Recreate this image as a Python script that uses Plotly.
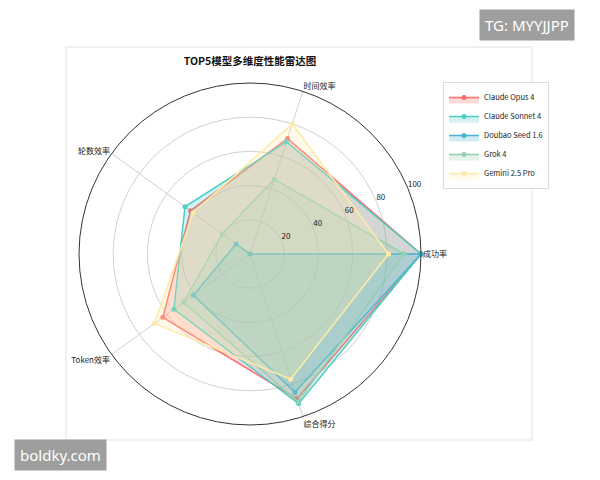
import plotly.graph_objects as go

categories = ["成功率", "时间效率", "轮数效率", "Token效率", "综合得分"]
models = ["Claude Opus 4", "Claude Sonnet 4", "Doubao Seed 1.6", "Grok 4", "Gemini 2.5 Pro"]
claude_opus = [100, 71, 43, 63, 89]
claude_sonnet = [100, 69, 47, 55, 92]
doubao_seed = [100, 0, 10, 41, 85]
grok4 = [90, 46, 20, 48, 91]
gemini_pro = [81, 80, 41, 69, 77]
series = [claude_opus, claude_sonnet, doubao_seed, grok4, gemini_pro]
colors = ["#FF6B6B", "#4ECDC4", "#45B7D1", "#96CEB4", "#FFEAA7"]
radial_ticks = [20, 40, 60, 80, 100]

def rgba(hexc, a):
    h = hexc.lstrip("#")
    return f"rgba({int(h[0:2],16)},{int(h[2:4],16)},{int(h[4:6],16)},{a})"

FONT = "Noto Sans CJK SC, Noto Sans, sans-serif"

# angular positions (degrees) of the categories, evenly spaced
angles = [i * 360 / len(categories) for i in range(len(categories))]
label_angle = 22.5

fig = go.Figure()
for name, vals, c in zip(models, series, colors):
    fig.add_trace(go.Scatterpolar(
        r=vals + vals[:1],
        theta=angles + angles[:1],
        name=name,
        mode="lines+markers",
        fill="toself",
        fillcolor=rgba(c, 0.25),
        line=dict(color=c, width=1.5),
        marker=dict(color=c, size=5),
    ))

# radial tick labels (matplotlib-style, placed beside the 22.5° direction)
fig.add_trace(go.Scatterpolar(
    r=radial_ticks, theta=[label_angle] * len(radial_ticks),
    mode="text", text=[str(v) for v in radial_ticks], textposition="top right",
    textfont=dict(size=8, color="#222", family=FONT),
    showlegend=False, hoverinfo="skip",
))

W, H = 600, 480
OFF = 8  # page body margin

def px(x):
    return (x - OFF) / W

def py(y):
    return (H - (y - OFF)) / H

cx, cy, R = 250, 254, 171

fig.update_layout(
    width=W, height=H,
    margin=dict(l=0, r=0, t=0, b=0),
    paper_bgcolor="white",
    plot_bgcolor="white",
    font=dict(family=FONT, size=8, color="#222"),
    polar=dict(
        domain=dict(x=[px(cx - R), px(cx + R)], y=[py(cy + R), py(cy - R)]),
        bgcolor="rgba(0,0,0,0)",
        gridshape="circular",
        radialaxis=dict(
            range=[0, 100], tickvals=radial_ticks, showticklabels=False,
            angle=label_angle, showline=False, ticks="",
            gridcolor="#d0d0d0", gridwidth=1,
        ),
        angularaxis=dict(
            type="linear", thetaunit="degrees",
            rotation=0, direction="counterclockwise",
            tickmode="array", tickvals=angles, ticktext=categories,
            showline=True, linecolor="#333", linewidth=1,
            gridcolor="#d0d0d0", gridwidth=1, ticks="",
            tickfont=dict(size=8, color="#222"),
        ),
    ),
    showlegend=True,
    legend=dict(
        x=px(443), y=py(82), xanchor="left", yanchor="top",
        bgcolor="white", bordercolor="#dddddd", borderwidth=1,
        font=dict(size=7.5, family=FONT), itemwidth=30, tracegroupgap=0,
    ),
    title=dict(
        text="<b>TOP5模型多维度性能雷达图</b>",
        x=px(250), xanchor="center", y=py(61), yanchor="middle",
        font=dict(size=10.5, family=FONT, color="#111"),
    ),
    shapes=[
        dict(type="rect", xref="paper", yref="paper", layer="below",
             x0=px(66), x1=px(532), y0=py(440), y1=py(47),
             line=dict(color="#f0f0f0", width=2), fillcolor="white"),
    ],
    annotations=[
        dict(text="TG: MYYJJPP", xref="paper", yref="paper", x=px(527), y=py(25),
             xanchor="center", yanchor="middle", showarrow=False,
             font=dict(size=15, color="white", family="Noto Sans"),
             bgcolor="#9e9e9e", borderpad=5),
        dict(text="boldky.com", xref="paper", yref="paper", x=px(60), y=py(455),
             xanchor="center", yanchor="middle", showarrow=False,
             font=dict(size=15, color="white", family="Noto Sans"),
             bgcolor="#9e9e9e", borderpad=5),
    ],
)

fig.write_html("out.html")
